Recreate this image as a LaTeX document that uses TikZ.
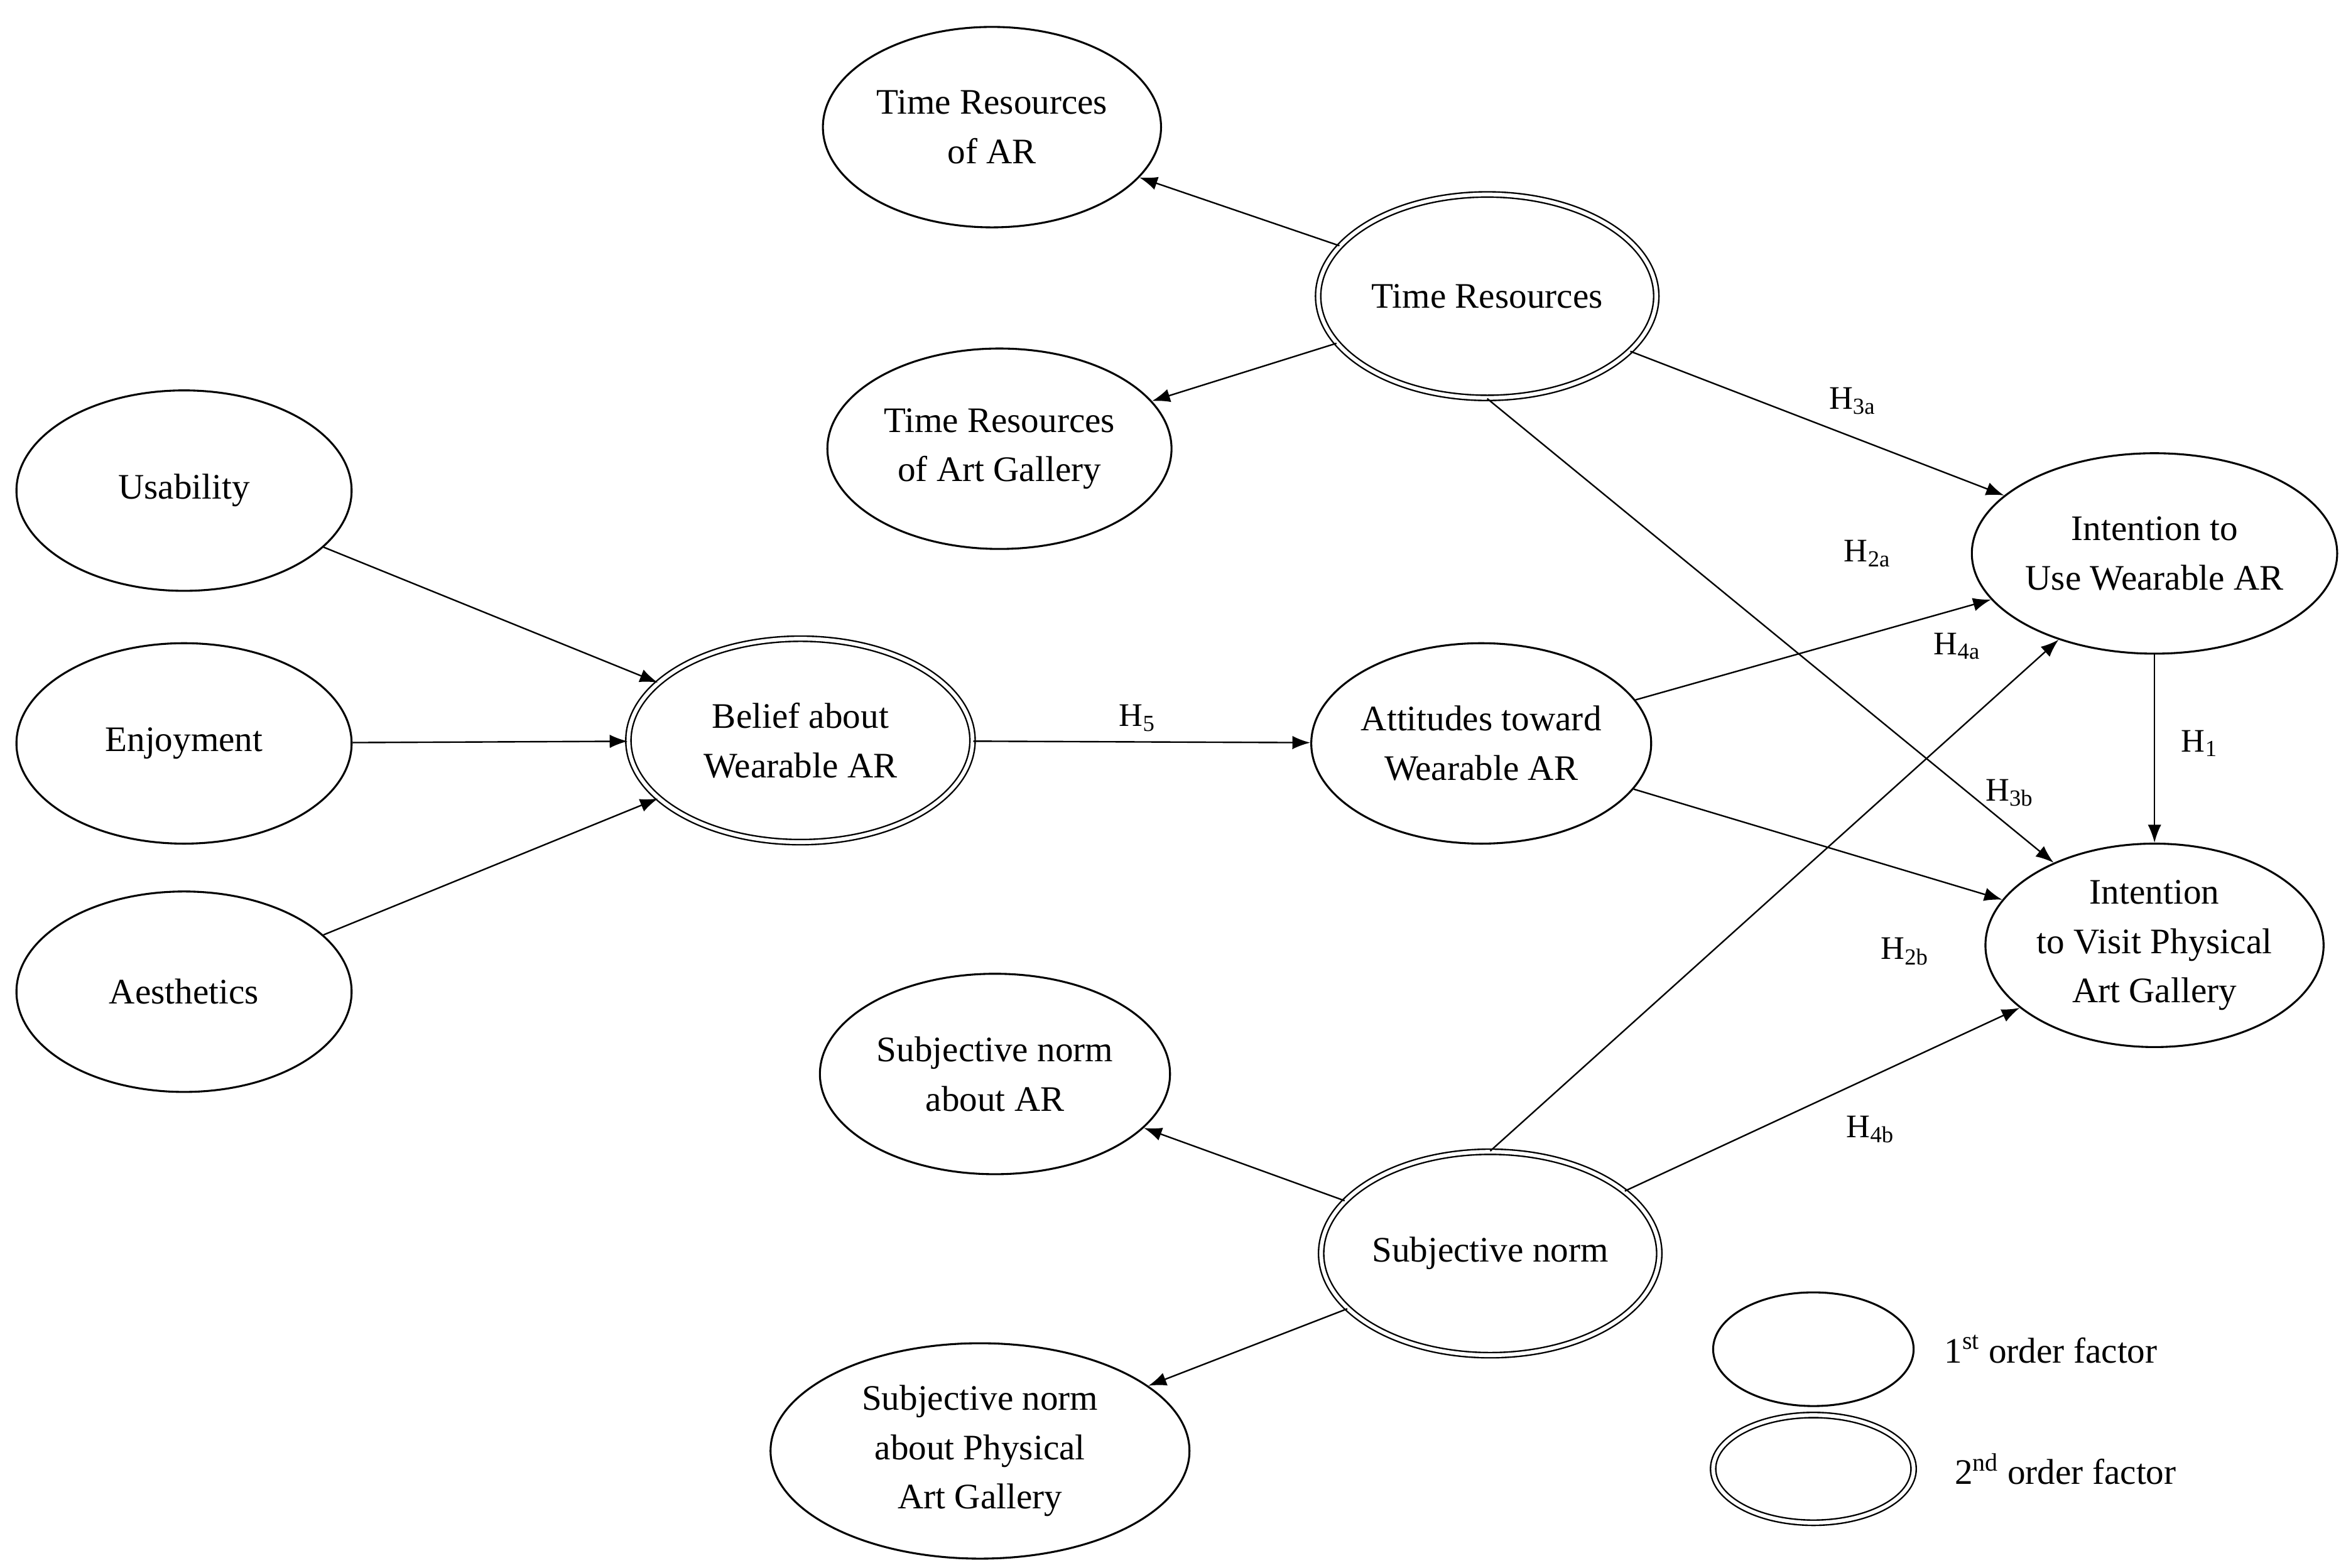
\documentclass[tikz,border=0pt]{standalone}
\usepackage{fontspec}
\setmainfont{Liberation Serif}
\usetikzlibrary{shapes.geometric,arrows.meta}
\begin{document}
\begin{tikzpicture}[x=1pt,y=-1pt,
  f1/.style={ellipse,draw,line width=1.3pt,inner sep=0pt,align=center,font=\fontsize{24}{33}\selectfont},
  f2/.style={f1,double,double distance=2.5pt,line width=1pt},
  ar/.style={-{Latex[length=12pt,width=9pt]},line width=1pt},
  lb/.style={font=\fontsize{22}{26}\selectfont}]
\useasboundingbox (0,0) rectangle (1568,1048);
\node[f1,minimum width=226,minimum height=134] (tra) at (663,85) {Time Resources\\of AR};
\node[f2,minimum width=226,minimum height=136] (tr) at (994,198) {Time Resources};
\node[f1,minimum width=230,minimum height=134] (trg) at (668,300) {Time Resources\\of Art Gallery};
\node[f1,minimum width=224,minimum height=134] (us) at (123,328) {Usability};
\node[f1,minimum width=224,minimum height=134] (en) at (123,497) {Enjoyment};
\node[f1,minimum width=224,minimum height=134] (ae) at (123,663) {Aesthetics};
\node[f2,minimum width=230,minimum height=136] (be) at (535,495) {Belief about\\Wearable AR};
\node[f1,minimum width=226,minimum height=134] (at) at (990,497) {Attitudes toward\\Wearable AR};
\node[f1,minimum width=226,minimum height=134] (iu) at (1440,370) {Intention to\\Use Wearable AR};
\node[f1,minimum width=226,minimum height=136] (iv) at (1440,632) {Intention\\to Visit Physical\\Art Gallery};
\node[f1,minimum width=234,minimum height=134] (sna) at (665,718) {Subjective norm\\about AR};
\node[f2,minimum width=226,minimum height=136] (sn) at (996,838) {Subjective norm};
\node[f1,minimum width=280,minimum height=144] (snp) at (655,970) {Subjective norm\\about Physical\\Art Gallery};
\node[f1,minimum width=134,minimum height=76] (l1) at (1212,902) {};
\node[f2,minimum width=134,minimum height=72] (l2) at (1212,982) {};
\node[anchor=west,font=\fontsize{24}{30}\selectfont] (t1) at (1296,902) {1\textsuperscript{st} order factor};
\node[anchor=west,font=\fontsize{24}{30}\selectfont] (t2) at (1303,982) {2\textsuperscript{nd} order factor};
\draw[ar] (tr) -- (tra);
\draw[ar] (tr) -- (trg);
\draw[ar] (us) -- (be);
\draw[ar] (en) -- (be);
\draw[ar] (ae) -- (be);
\draw[ar] (be) -- (at);
\draw[ar] (tr) -- (iu);
\draw[ar] (tr.south) -- (iv);
\draw[ar] (at) -- (iu);
\draw[ar] (at) -- (iv);
\draw[ar] (iu) -- (iv);
\draw[ar] (sn.north) -- (iu);
\draw[ar] (sn) -- (iv);
\draw[ar] (sn) -- (sna);
\draw[ar] (sn) -- (snp);
\node[lb] (h3a) at (1238,268) {H\textsubscript{3a}};
\node[lb] (h2a) at (1248,370) {H\textsubscript{2a}};
\node[lb] (h4a) at (1308,432) {H\textsubscript{4a}};
\node[lb] (h5) at (760,480) {H\textsubscript{5}};
\node[lb] (h1) at (1470,497) {H\textsubscript{1}};
\node[lb] (h3b) at (1343,530) {H\textsubscript{3b}};
\node[lb] (h2b) at (1273,636) {H\textsubscript{2b}};
\node[lb] (h4b) at (1250,755) {H\textsubscript{4b}};
\end{tikzpicture}
\end{document}
